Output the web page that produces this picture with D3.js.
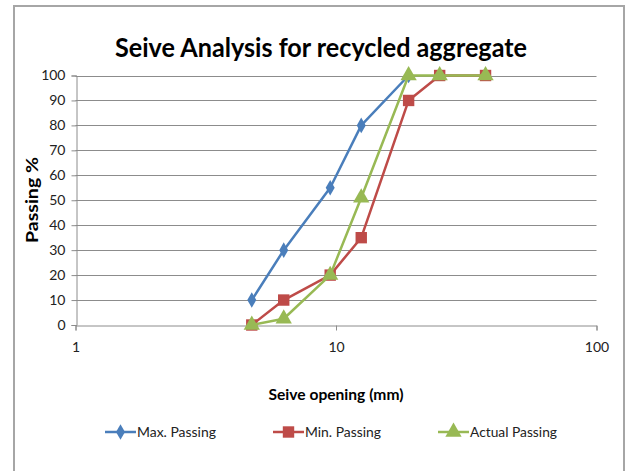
<!DOCTYPE html>
<html>
<head>
<meta charset="utf-8">
<script src="https://cdn.jsdelivr.net/npm/d3@7"></script>
<style>
  body { margin: 0; background: #fff; }
  text { font-family: Lato, "Open Sans", sans-serif; }
</style>
</head>
<body>
<div id="chart"></div>
<script>
// données du graphique
const sieveSizes = [4.75, 6.3, 9.5, 12.5, 19, 25, 37.5];
const maxPassing = [10, 30, 55, 80, 100];
const minPassing = [0, 10, 20, 35, 90, 100, 100];
const actualPassing = [0, 2.5, 20, 51, 100, 100, 100];
const seriesNames = ["Max. Passing", "Min. Passing", "Actual Passing"];
const yTicks = [0, 10, 20, 30, 40, 50, 60, 70, 80, 90, 100];
const xTicks = [1, 10, 100];

const W = 626, H = 471;
const colors = ["#4a7ebb", "#be4b48", "#98b954"];
const symbols = [d3.symbolDiamond, d3.symbolSquare, d3.symbolTriangle];
const symSizes = [70, 130, 115];

const svg = d3.select("#chart").append("svg")
    .attr("width", W)
    .attr("height", H);

// cadre
svg.append("rect")
    .attr("x", 14).attr("y", 6)
    .attr("width", 610).attr("height", 480)
    .attr("fill", "none")
    .attr("stroke", "#a6a6a6")
    .attr("stroke-width", 2);

const x = d3.scaleLog().domain([1, 100]).range([75.5, 596.5]);
const y = d3.scaleLinear().domain([0, 100]).range([325, 75.5]);

// grille
svg.append("g")
    .selectAll("line")
    .data(yTicks.slice(1))
    .enter().append("line")
    .attr("x1", x(1)).attr("x2", x(100))
    .attr("y1", d => Math.round(y(d)) + 0.5)
    .attr("y2", d => Math.round(y(d)) + 0.5)
    .attr("stroke", "#8c8c8c")
    .attr("stroke-width", 1);

// axes
const xAxis = d3.axisBottom(x).tickValues(xTicks).tickFormat(d3.format("d")).tickSize(5).tickPadding(12);
const yAxis = d3.axisLeft(y).tickValues(yTicks).tickSize(5).tickPadding(6);

const gx = svg.append("g").attr("transform", `translate(0,${Math.round(y(0)) + 0.5})`).call(xAxis);
const gy = svg.append("g").attr("transform", `translate(${Math.round(x(1)) + 0.5},0)`).call(yAxis);

[gx, gy].forEach(g => {
    g.select(".domain").attr("stroke", "#8c8c8c");
    g.selectAll(".tick line").attr("stroke", "#8c8c8c");
    g.selectAll(".tick text")
        .attr("fill", "#222")
        .style("font-size", "14px")
        .style("font-family", "Lato, sans-serif");
});

// titres
svg.append("text")
    .attr("x", 321)
    .attr("y", 57)
    .attr("text-anchor", "middle")
    .style("font-size", "27px")
    .style("font-weight", "bold")
    .attr("textLength", 412)
    .attr("lengthAdjust", "spacingAndGlyphs")
    .text("Seive Analysis for recycled aggregate");

svg.append("text")
    .attr("transform", "rotate(-90)")
    .attr("x", -200)
    .attr("y", 38)
    .attr("text-anchor", "middle")
    .style("font-size", "17px")
    .style("font-weight", "bold")
    .attr("textLength", 86)
    .attr("lengthAdjust", "spacingAndGlyphs")
    .text("Passing %");

svg.append("text")
    .attr("x", 336)
    .attr("y", 400)
    .attr("text-anchor", "middle")
    .style("font-size", "16px")
    .style("font-weight", "bold")
    .attr("textLength", 135)
    .attr("lengthAdjust", "spacingAndGlyphs")
    .text("Seive opening (mm)");

// séries
const series = [maxPassing, minPassing, actualPassing];
const line = d3.line()
    .x(d => x(d[0]))
    .y(d => y(d[1]));

series.forEach((vals, i) => {
    const pts = vals.map((v, j) => [sieveSizes[j], v]);
    svg.append("path")
        .datum(pts)
        .attr("d", line)
        .attr("fill", "none")
        .attr("stroke", colors[i])
        .attr("stroke-width", 2.5)
        .attr("stroke-linejoin", "round");
    svg.append("g")
        .selectAll("path")
        .data(pts)
        .enter().append("path")
        .attr("transform", d => `translate(${x(d[0])},${y(d[1])})`)
        .attr("d", d3.symbol().type(symbols[i]).size(symSizes[i]))
        .attr("fill", colors[i]);
});

// légende
const legendX = [105, 273, 438];
const legendW = [79, 76, 87];
seriesNames.forEach((name, i) => {
    const g = svg.append("g").attr("transform", `translate(${legendX[i]},432)`);
    g.append("line")
        .attr("x1", 0).attr("x2", 31)
        .attr("stroke", colors[i])
        .attr("stroke-width", 2.5);
    g.append("path")
        .attr("transform", "translate(15.5,0)")
        .attr("d", d3.symbol().type(symbols[i]).size(symSizes[i]))
        .attr("fill", colors[i]);
    g.append("text")
        .attr("x", 32)
        .attr("y", 5)
        .style("font-size", "14px")
        .attr("fill", "#222")
        .attr("textLength", legendW[i])
        .attr("lengthAdjust", "spacingAndGlyphs")
        .text(name);
});
</script>
</body>
</html>
